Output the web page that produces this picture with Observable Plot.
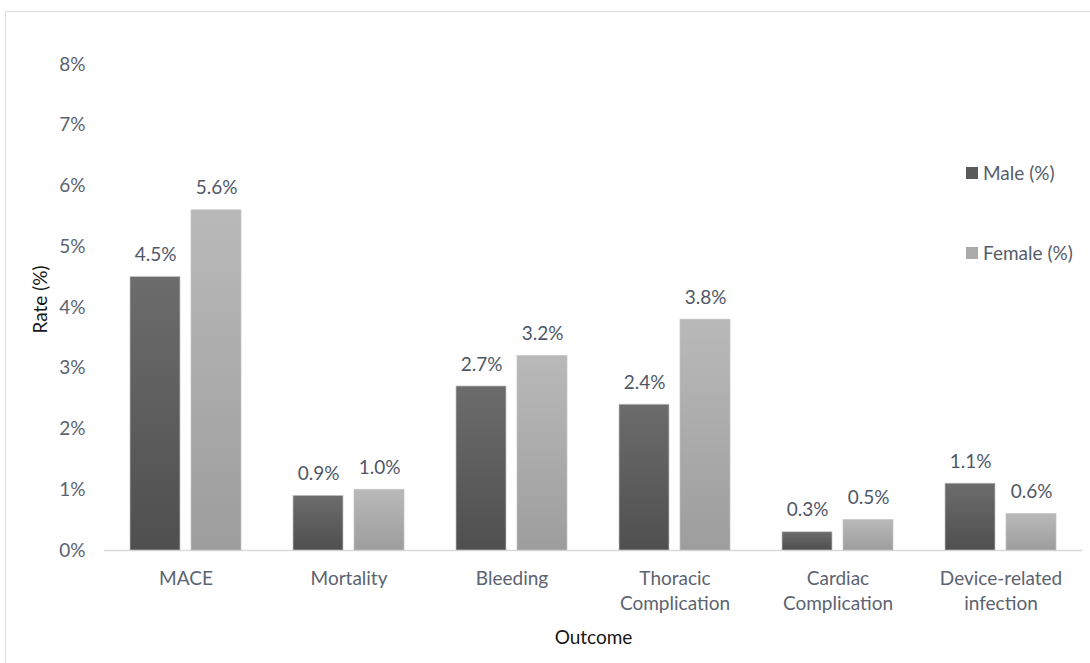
<!DOCTYPE html>
<html>
<head>
<meta charset="utf-8">
<script src="https://cdn.jsdelivr.net/npm/d3@7"></script>
<script src="https://cdn.jsdelivr.net/npm/@observablehq/plot@0.6"></script>
<style>
  html, body { margin: 0; padding: 0; background: #fff; }
  #wrap { position: relative; width: 1090px; height: 663px; overflow: hidden; font-family: Lato, sans-serif; }
  #frame { position: absolute; left: 5px; top: 11px; width: 1100px; height: 700px;
           border-top: 1.5px solid #dedede; border-left: 1.5px solid #dedede; pointer-events: none; }
  #chart { position: absolute; left: 0; top: 0; }
  .legend { position: absolute; left: 966px; font-size: 19px; color: #555c69; line-height: 1; }
  .legend .item { position: absolute; left: 0; white-space: nowrap; display: flex; align-items: center; }
  .legend .sw { width: 12px; height: 12px; margin-right: 5px; display: inline-block; }
</style>
</head>
<body>
<div id="wrap">
  <div id="frame"></div>
  <div id="chart"></div>
  <div class="legend" id="legend"></div>
</div>
<script>
// Outcome categories (line breaks split the axis labels)
const outcomes = ["MACE", "Mortality", "Bleeding", "Thoracic\nComplication", "Cardiac\nComplication", "Device-related\ninfection"];
// Event rates in percent
const male = [4.5, 0.9, 2.7, 2.4, 0.3, 1.1];
const female = [5.6, 1.0, 3.2, 3.8, 0.5, 0.6];
const series = ["Male (%)", "Female (%)"];
const yTicks = [0, 1, 2, 3, 4, 5, 6, 7, 8];

const rows = outcomes.flatMap((o, i) => [
  {outcome: o, sex: series[0], rate: male[i]},
  {outcome: o, sex: series[1], rate: female[i]}
]);

const gradIds = {"Male (%)": "grad-male", "Female (%)": "grad-female"};
const gradStops = {
  "grad-male": ["#6c6c6c", "#4f4f4f"],
  "grad-female": ["#b9b9b9", "#9d9d9d"]
};

const chart = Plot.plot({
  width: 1090,
  height: 663,
  marginLeft: 102,
  marginRight: 7,
  marginTop: 64,
  marginBottom: 113,
  style: {fontFamily: "Lato, sans-serif", fontSize: "19px", background: "transparent", overflow: "visible"},
  fx: {domain: outcomes, padding: 0, label: null},
  x: {domain: series, paddingInner: 0.177, paddingOuter: 0.405, axis: null},
  y: {domain: [0, 8], axis: null},
  marks: [
    Plot.axisY({ticks: yTicks, tickSize: 0, tickPadding: 19, tickFormat: d => d + "%", color: "#5c6370", label: null, fontSize: 19}),
    Plot.axisFx({anchor: "bottom", tickSize: 0, tickPadding: 17, lineHeight: 1.32, color: "#5c6370", label: null, fontSize: 19}),
    Plot.ruleY([0], {stroke: "#d9d9d9", strokeWidth: 1.5}),
    ...series.map(s => Plot.barY(rows.filter(d => d.sex === s), {
      fx: "outcome", x: "sex", y: "rate",
      fill: `url(#${gradIds[s]})`, stroke: "#c4c4c4", strokeWidth: 0.7
    })),
    Plot.text(rows, {fx: "outcome", x: "sex", y: "rate", text: d => d.rate.toFixed(1) + "%", dy: -22, fill: "#4f5767", fontSize: 19}),
    Plot.text(["Rate (%)"], {frameAnchor: "left", textAnchor: "middle", lineAnchor: "middle", dx: -64, dy: -8, rotate: -90, fill: "#161616", fontSize: 19, facet: "super"}),
    Plot.text(["Outcome"], {frameAnchor: "bottom", lineAnchor: "middle", dy: 87, fill: "#161616", fontSize: 19, facet: "super"})
  ]
});

// Vertical gradients used by the bars
const defs = d3.select(chart).insert("defs", ":first-child");
for (const [id, [top, bottom]] of Object.entries(gradStops)) {
  const g = defs.append("linearGradient").attr("id", id).attr("x1", 0).attr("y1", 0).attr("x2", 0).attr("y2", 1);
  g.append("stop").attr("offset", "0%").attr("stop-color", top);
  g.append("stop").attr("offset", "100%").attr("stop-color", bottom);
}
document.getElementById("chart").appendChild(chart);

// Legend on the right
const legendColors = {"Male (%)": "#5a5a5a", "Female (%)": "#aaaaaa"};
const legendTops = [163, 243];
const legend = document.getElementById("legend");
series.forEach((s, i) => {
  const item = document.createElement("div");
  item.className = "item";
  item.style.top = legendTops[i] + "px";
  item.innerHTML = `<span class="sw" style="background:${legendColors[s]}"></span><span>${s}</span>`;
  legend.appendChild(item);
});
</script>
</body>
</html>
